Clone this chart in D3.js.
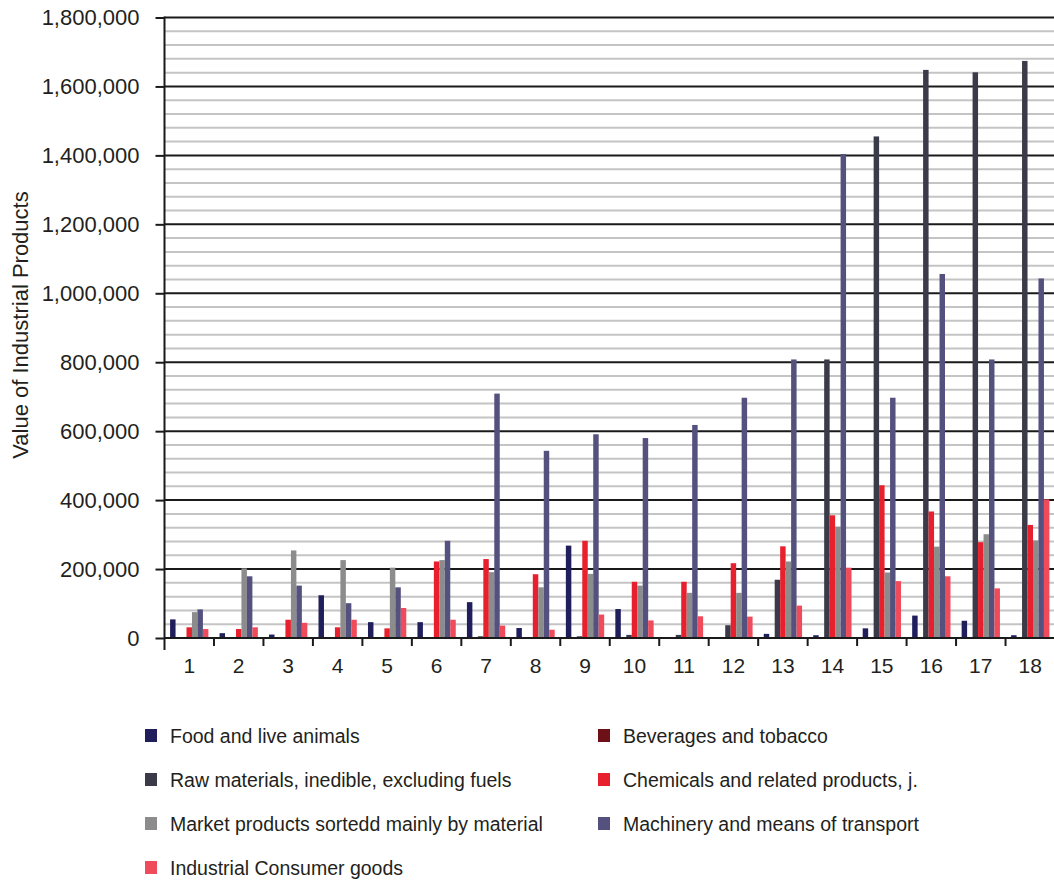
<!DOCTYPE html>
<html>
<head>
<meta charset="utf-8">
<script src="https://cdn.jsdelivr.net/npm/d3@7"></script>
<style>
  html, body { margin: 0; padding: 0; background: #ffffff; }
  svg { display: block; }
  text { font-family: "Liberation Sans", Arial, Helvetica, sans-serif; fill: #231f20; }
</style>
</head>
<body>
<svg id="chart" width="1054" height="884"></svg>
<script>
// ---- data ----
const categories = ["1","2","3","4","5","6","7","8","9","10","11","12","13","14","15","16","17","18"];
const seriesNames = [
  "Food and live animals",
  "Beverages and tobacco",
  "Raw materials, inedible, excluding fuels",
  "Chemicals and related products, j.",
  "Market products sortedd mainly by material",
  "Machinery and means of transport",
  "Industrial Consumer goods"
];
const seriesColors = ["#201f5c", "#6e1018", "#3a3a48", "#e8202e", "#8c8c8c", "#55517f", "#ef4b5a"];
const food      = [54000, 14000, 10000, 124000, 46000, 46000, 104000, 29000, 268000, 84000, 0, 0, 12000, 8000, 28000, 65000, 50000, 8000];
const beverages = [0, 0, 0, 0, 0, 0, 0, 0, 0, 0, 0, 0, 0, 0, 0, 0, 0, 0];
const rawMat    = [0, 0, 0, 0, 0, 0, 5000, 0, 5000, 9000, 9000, 37000, 169000, 808000, 1455000, 1648000, 1641000, 1674000];
const chemicals = [31000, 26000, 53000, 31000, 28000, 222000, 229000, 185000, 282000, 163000, 163000, 217000, 266000, 356000, 443000, 367000, 278000, 328000];
const market    = [75000, 202000, 254000, 226000, 204000, 226000, 191000, 147000, 186000, 152000, 131000, 131000, 222000, 323000, 190000, 265000, 301000, 283000];
const machinery = [83000, 179000, 152000, 101000, 147000, 282000, 709000, 543000, 591000, 580000, 618000, 697000, 808000, 1404000, 697000, 1056000, 808000, 1043000];
const consumer  = [26000, 31000, 44000, 53000, 87000, 53000, 36000, 24000, 68000, 51000, 63000, 62000, 94000, 204000, 165000, 179000, 144000, 402000];
const yTicks = [0, 200000, 400000, 600000, 800000, 1000000, 1200000, 1400000, 1600000, 1800000];
const yTitle = "Value of Industrial Products";

const seriesValues = [food, beverages, rawMat, chemicals, market, machinery, consumer];

// ---- layout ----
const svg = d3.select("#chart");
const plotL = 164.5, plotR = 1055, plotT = 17.5, plotB = 638;

const x0 = d3.scaleBand().domain(categories).range([plotL, plotR]).padding(0);
const x1 = d3.scaleBand().domain(d3.range(seriesNames.length)).range([0, x0.bandwidth()]).paddingInner(0).paddingOuter(1.02);
const y = d3.scaleLinear().domain([0, 1800000]).range([plotB, plotT]);

// minor gridlines
const minor = d3.range(40000, 1800001, 40000).filter(v => v % 200000 !== 0);
svg.append("g").selectAll("line").data(minor).join("line")
  .attr("x1", plotL).attr("x2", 1054)
  .attr("y1", d => y(d)).attr("y2", d => y(d))
  .attr("stroke", "#c4c4c4").attr("stroke-width", 2);

// major gridlines
svg.append("g").selectAll("line").data(yTicks.filter(v => v > 0)).join("line")
  .attr("x1", plotL).attr("x2", 1054)
  .attr("y1", d => y(d)).attr("y2", d => y(d))
  .attr("stroke", "#1a1a1a").attr("stroke-width", 2);

// bars
const groups = svg.append("g").selectAll("g").data(categories).join("g")
  .attr("transform", d => `translate(${x0(d)},0)`);
groups.selectAll("rect")
  .data((c, i) => seriesValues.map((vals, s) => ({ s, v: vals[i] })))
  .join("rect")
  .attr("x", d => x1(d.s))
  .attr("width", x1.bandwidth())
  .attr("y", d => y(d.v))
  .attr("height", d => plotB - y(d.v))
  .attr("fill", d => seriesColors[d.s]);

// y axis
const yAxis = d3.axisLeft(y).tickValues(yTicks).tickSize(9).tickPadding(16)
  .tickFormat(d3.format(","));
const gy = svg.append("g").attr("transform", `translate(${plotL},0)`).call(yAxis);
gy.select(".domain").remove();
gy.selectAll(".tick line").attr("stroke", "#1a1a1a").attr("stroke-width", 2);
gy.selectAll(".tick text").attr("font-size", 22).attr("fill", "#231f20")
  .attr("font-family", "'Liberation Sans', Arial, sans-serif");
svg.append("line").attr("x1", plotL).attr("x2", plotL).attr("y1", plotT - 1).attr("y2", 650)
  .attr("stroke", "#1a1a1a").attr("stroke-width", 2);

// x axis
svg.append("line").attr("x1", plotL).attr("x2", 1054).attr("y1", plotB).attr("y2", plotB)
  .attr("stroke", "#1a1a1a").attr("stroke-width", 2);
const xAxis = d3.axisBottom(x0).tickSize(0).tickPadding(20);
const gx = svg.append("g").attr("transform", `translate(0,${plotB})`).call(xAxis);
gx.select(".domain").remove();
gx.selectAll(".tick text").attr("font-size", 21).attr("fill", "#231f20")
  .attr("font-family", "'Liberation Sans', Arial, sans-serif");
// boundary ticks
svg.append("g").selectAll("line").data(categories.slice(1)).join("line")
  .attr("x1", d => x0(d)).attr("x2", d => x0(d))
  .attr("y1", plotB).attr("y2", plotB + 8)
  .attr("stroke", "#1a1a1a").attr("stroke-width", 2);

// y title
svg.append("text")
  .attr("transform", `translate(28,325) rotate(-90)`)
  .attr("text-anchor", "middle")
  .attr("font-size", 22)
  .text(yTitle);

// legend
const legendPos = [[145, 736], [598, 736], [145, 780], [598, 780], [145, 824], [598, 824], [145, 868]];
const lg = svg.append("g").selectAll("g").data(seriesNames).join("g")
  .attr("transform", (d, i) => `translate(${legendPos[i][0]},${legendPos[i][1]})`);
lg.append("rect").attr("x", 0).attr("y", -7).attr("width", 12).attr("height", 13)
  .attr("fill", (d, i) => seriesColors[i]);
lg.append("text").attr("x", 25).attr("y", 0).attr("dominant-baseline", "central")
  .attr("font-size", 19.5).text(d => d);
</script>
</body>
</html>
